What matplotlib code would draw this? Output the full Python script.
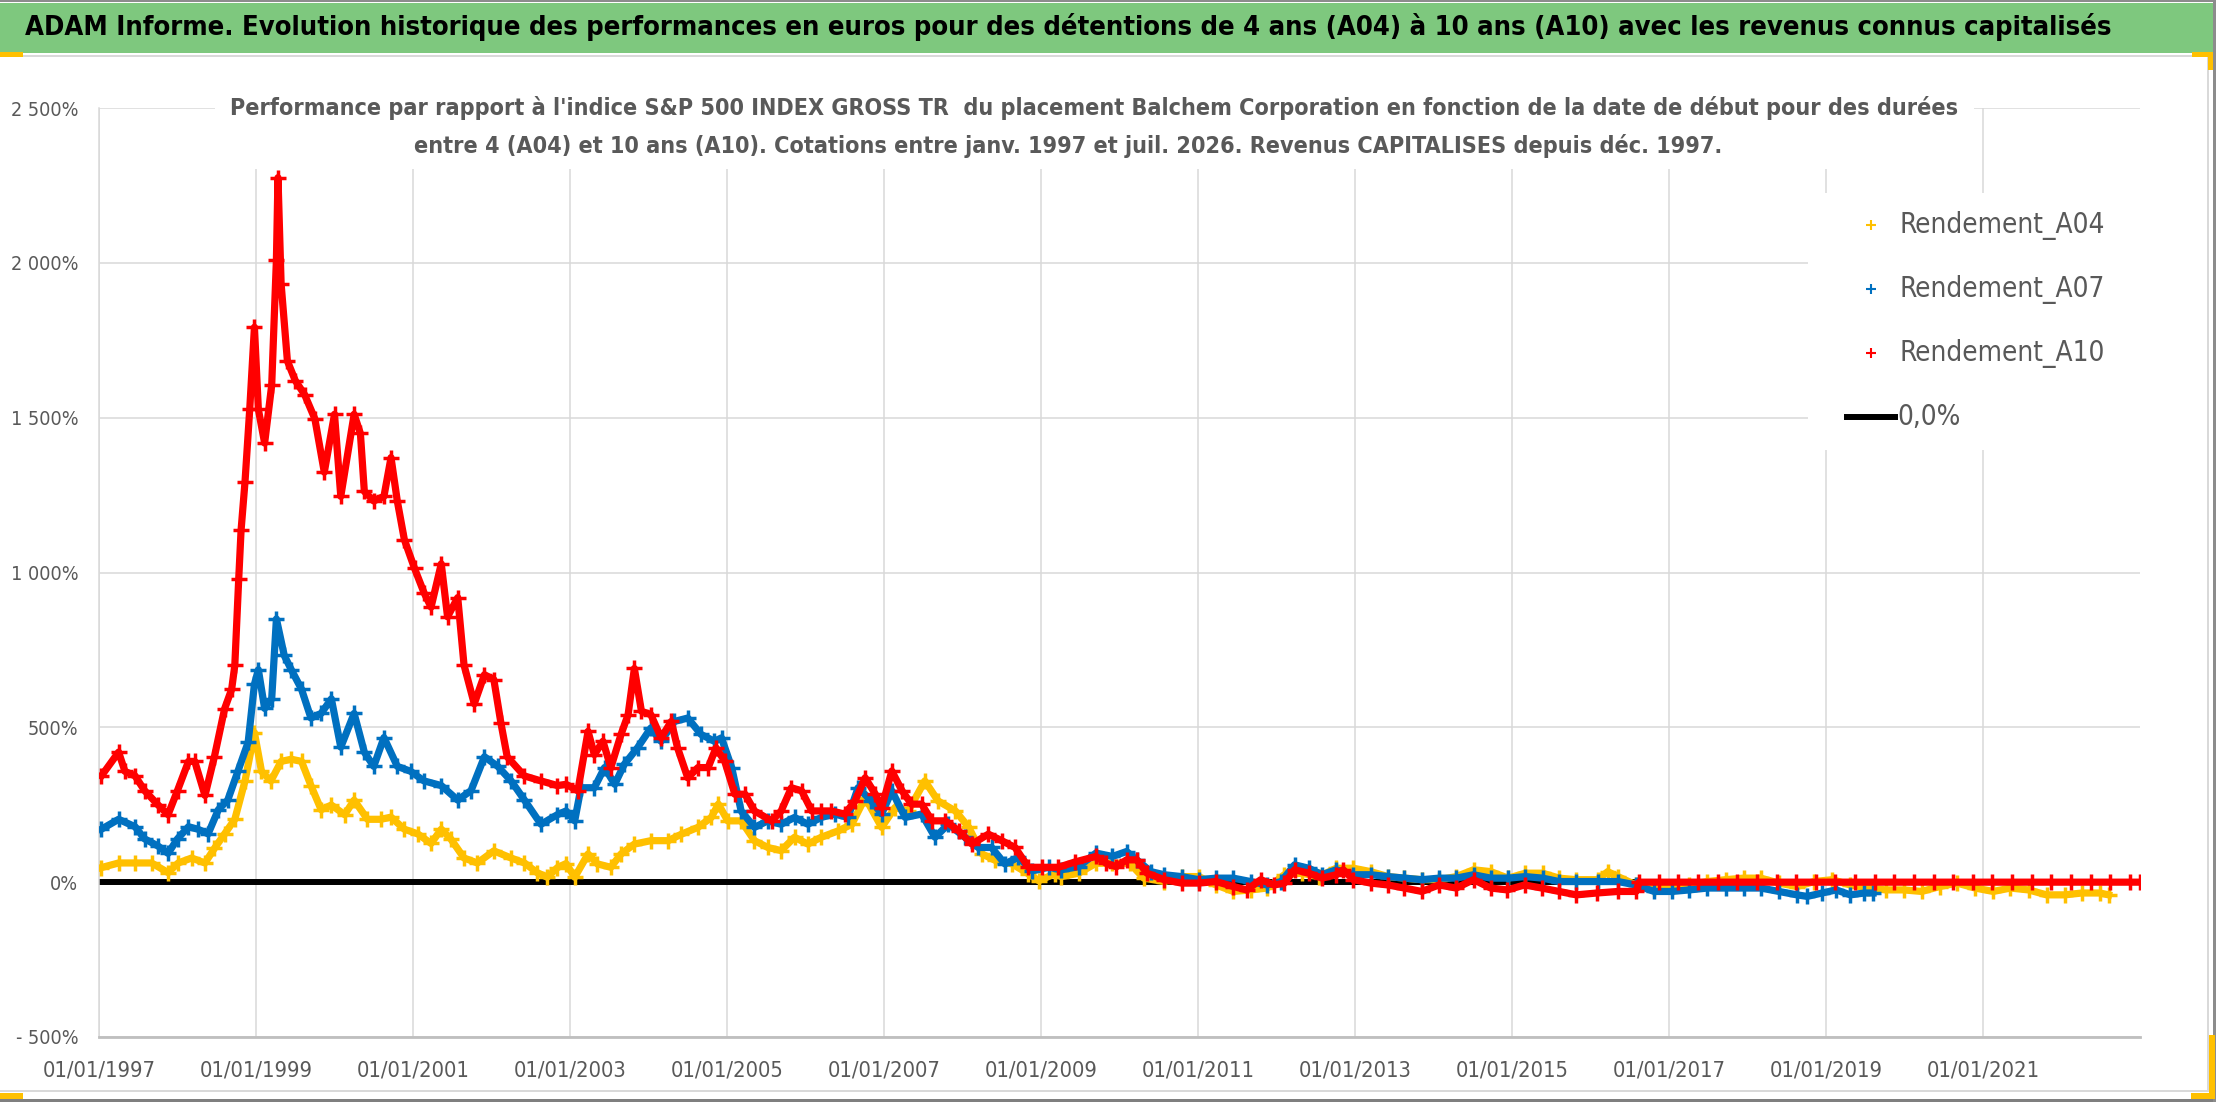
import matplotlib
matplotlib.use('Agg')
import matplotlib.pyplot as plt
from matplotlib import font_manager
from matplotlib.lines import Line2D
from matplotlib.patches import Rectangle

W, H, DPI = 2216, 1102, 100

# Calibri-like narrow look: take the narrowest family we have
fonts = font_manager.fontManager.ttflist
if any(f.name == 'Liberation Sans Narrow' for f in fonts):
    FAM, STRETCH = 'Liberation Sans Narrow', 'normal'
elif any(f.name == 'DejaVu Sans' and f.stretch == 'condensed' for f in fonts):
    FAM, STRETCH = 'DejaVu Sans', 'condensed'
else:
    FAM, STRETCH = 'Liberation Sans', 'normal'
plt.rcParams['font.family'] = [FAM, 'DejaVu Sans']
plt.rcParams['font.stretch'] = STRETCH

TITLE = ("ADAM Informe. Evolution historique des performances en euros pour des détentions "
         "de 4 ans (A04) à 10 ans (A10) avec les revenus connus capitalisés")
SUB1 = ("Performance par rapport à l'indice S&P 500 INDEX GROSS TR  du placement Balchem Corporation "
        "en fonction de la date de début pour des durées")
SUB2 = ("entre 4 (A04) et 10 ans (A10). Cotations entre janv. 1997 et juil. 2026. "
        "Revenus CAPITALISES depuis déc. 1997.")

# start dates as decimal years, values in %
a04_years = [1997.03, 1997.25, 1997.46, 1997.67, 1997.88, 1998.01, 1998.18, 1998.35, 1998.47, 1998.60,
             1998.73, 1998.86, 1998.98, 1999.07, 1999.19, 1999.32, 1999.45, 1999.58, 1999.70, 1999.83,
             1999.96, 2000.13, 2000.25, 2000.42, 2000.59, 2000.72, 2000.89, 2001.06, 2001.23, 2001.36,
             2001.48, 2001.65, 2001.82, 2002.03, 2002.25, 2002.42, 2002.58, 2002.71, 2002.84, 2002.95,
             2003.06, 2003.23, 2003.35, 2003.52, 2003.65, 2003.82, 2004.03, 2004.25, 2004.42, 2004.63,
             2004.80, 2004.89, 2005.01, 2005.18, 2005.35, 2005.52, 2005.69, 2005.86, 2006.03, 2006.20,
             2006.42, 2006.59, 2006.76, 2006.97, 2007.14, 2007.31, 2007.52, 2007.69, 2007.91, 2008.08,
             2008.25, 2008.42, 2008.63, 2008.84, 2008.97, 2009.18, 2009.26, 2009.48, 2009.70, 2009.91,
             2010.13, 2010.31, 2010.57, 2010.79, 2011.01, 2011.23, 2011.45, 2011.67, 2011.88, 2012.10,
             2012.32, 2012.54, 2012.76, 2012.98, 2013.20, 2013.42, 2013.63, 2013.85, 2014.07, 2014.29,
             2014.51, 2014.73, 2014.95, 2015.17, 2015.39, 2015.60, 2015.82, 2016.09, 2016.22, 2016.35,
             2016.58, 2016.81, 2017.04, 2017.26, 2017.49, 2017.72, 2017.95, 2018.17, 2018.40, 2018.63,
             2018.85, 2019.08, 2019.31, 2019.54, 2019.76, 2019.99, 2020.22, 2020.45, 2020.67, 2020.90,
             2021.13, 2021.35, 2021.58, 2021.81, 2022.04, 2022.26, 2022.49, 2022.60]
a04_vals = [47, 62, 62, 62, 31, 62, 78, 62, 109, 156,
            203, 327, 483, 358, 327, 390, 397, 390, 312, 234,
            249, 218, 265, 203, 203, 210, 171, 156, 125, 171,
            140, 78, 62, 101, 78, 62, 31, 16, 47, 60,
            16, 91, 59, 48, 91, 123, 134, 134, 155, 177,
            209, 252, 198, 198, 134, 112, 102, 145, 123, 145,
            166, 187, 273, 177, 241, 230, 327, 262, 230, 177,
            91, 70, 59, 27, 5, 27, 18, 29, 61, 61,
            61, 13, 2, 18, 18, -9, -30, -25, -19, 24,
            29, 18, 45, 45, 34, 18, 13, 8, 8, 18,
            40, 34, 13, 29, 29, 13, 8, 8, 34, 18,
            -9, -19, -14, -9, 2, 8, 13, 13, -3, -14,
            2, 8, -9, -19, -25, -25, -30, -14, -3, -19,
            -30, -19, -25, -41, -41, -35, -35, -41]

a07_years = [1997.03, 1997.25, 1997.46, 1997.58, 1997.75, 1997.88, 1998.00, 1998.14, 1998.26, 1998.39,
             1998.52, 1998.64, 1998.77, 1998.90, 1998.98, 1999.03, 1999.11, 1999.20, 1999.26, 1999.36,
             1999.45, 1999.58, 1999.70, 1999.83, 1999.96, 2000.08, 2000.25, 2000.38, 2000.50, 2000.63,
             2000.80, 2000.97, 2001.14, 2001.36, 2001.57, 2001.74, 2001.91, 2002.08, 2002.25, 2002.42,
             2002.63, 2002.84, 2002.95, 2003.06, 2003.14, 2003.31, 2003.44, 2003.57, 2003.69, 2003.86,
             2004.03, 2004.16, 2004.33, 2004.50, 2004.67, 2004.84, 2004.93, 2005.06, 2005.18, 2005.35,
             2005.52, 2005.69, 2005.86, 2006.03, 2006.20, 2006.37, 2006.54, 2006.67, 2006.84, 2006.97,
             2007.10, 2007.27, 2007.48, 2007.65, 2007.82, 2008.03, 2008.20, 2008.37, 2008.54, 2008.71,
             2008.89, 2009.10, 2009.26, 2009.48, 2009.70, 2009.91, 2010.09, 2010.22, 2010.40, 2010.57,
             2010.79, 2011.01, 2011.23, 2011.45, 2011.67, 2011.88, 2012.06, 2012.23, 2012.41, 2012.58,
             2012.76, 2012.98, 2013.20, 2013.42, 2013.63, 2013.85, 2014.07, 2014.29, 2014.51, 2014.73,
             2014.95, 2015.17, 2015.39, 2015.60, 2015.82, 2016.09, 2016.35, 2016.58, 2016.81, 2017.04,
             2017.26, 2017.49, 2017.72, 2017.95, 2018.17, 2018.40, 2018.63, 2018.76, 2018.95, 2019.13,
             2019.31, 2019.49, 2019.60]
a07_vals = [171, 203, 179, 140, 117, 93, 140, 179, 171, 156,
            234, 265, 358, 452, 639, 686, 561, 592, 850, 732,
            686, 623, 530, 545, 592, 436, 545, 420, 374, 467,
            374, 358, 327, 312, 265, 296, 405, 374, 327, 265,
            187, 218, 230, 198, 305, 305, 370, 316, 380, 434,
            498, 455, 519, 530, 477, 455, 466, 370, 230, 177,
            198, 187, 209, 187, 209, 220, 209, 305, 262, 220,
            295, 209, 220, 145, 187, 145, 112, 112, 59, 80,
            37, 48, 40, 50, 94, 83, 99, 72, 34, 24,
            18, 8, 13, 13, 2, -9, 2, 56, 45, 24,
            40, 24, 24, 18, 13, 8, 13, 13, 24, 13,
            13, 18, 13, 2, 2, 2, 2, -9, -30, -30,
            -25, -19, -19, -19, -19, -30, -41, -46, -35, -25,
            -41, -35, -35]

a10_years = [1997.03, 1997.25, 1997.33, 1997.46, 1997.58, 1997.75, 1997.88, 1998.00, 1998.14, 1998.22,
             1998.35, 1998.47, 1998.60, 1998.69, 1998.73, 1998.78, 1998.81, 1998.86, 1998.92, 1998.98,
             1999.03, 1999.11, 1999.20, 1999.26, 1999.28, 1999.32, 1999.40, 1999.50, 1999.62, 1999.75,
             1999.87, 2000.00, 2000.08, 2000.25, 2000.33, 2000.38, 2000.50, 2000.63, 2000.72, 2000.80,
             2000.89, 2001.02, 2001.14, 2001.23, 2001.36, 2001.44, 2001.57, 2001.65, 2001.78, 2001.91,
             2002.03, 2002.12, 2002.20, 2002.42, 2002.63, 2002.84, 2002.95, 2003.10, 2003.23, 2003.31,
             2003.42, 2003.52, 2003.65, 2003.74, 2003.82, 2003.91, 2004.03, 2004.16, 2004.29, 2004.37,
             2004.50, 2004.63, 2004.76, 2004.86, 2004.97, 2005.10, 2005.23, 2005.35, 2005.57, 2005.69,
             2005.82, 2005.95, 2006.08, 2006.20, 2006.33, 2006.50, 2006.63, 2006.76, 2006.89, 2006.97,
             2007.10, 2007.23, 2007.35, 2007.48, 2007.61, 2007.78, 2007.95, 2008.12, 2008.33, 2008.50,
             2008.67, 2008.84, 2009.01, 2009.22, 2009.43, 2009.70, 2009.83, 2009.96, 2010.09, 2010.22,
             2010.35, 2010.57, 2010.79, 2011.01, 2011.23, 2011.45, 2011.62, 2011.80, 2011.97, 2012.10,
             2012.23, 2012.41, 2012.58, 2012.76, 2012.85, 2012.98, 2013.20, 2013.42, 2013.63, 2013.85,
             2014.07, 2014.29, 2014.51, 2014.73, 2014.94, 2015.16, 2015.38, 2015.60, 2015.82, 2016.08,
             2016.35, 2016.58, 2016.62, 2016.87, 2017.12, 2017.37, 2017.62, 2017.87, 2018.12, 2018.37,
             2018.62, 2018.87, 2019.12, 2019.37, 2019.62, 2019.87, 2020.12, 2020.37, 2020.62, 2020.87,
             2021.12, 2021.37, 2021.62, 2021.87, 2022.12, 2022.37, 2022.62, 2022.87, 2023.00]
a10_vals = [343, 420, 358, 343, 296, 250, 218, 296, 390, 390,
            280, 405, 560, 623, 700, 980, 1137, 1293, 1527, 1792,
            1527, 1418, 1605, 2010, 2275, 1932, 1683, 1620, 1574, 1496,
            1324, 1511, 1246, 1511, 1449, 1262, 1231, 1246, 1371, 1231,
            1106, 1013, 935, 888, 1028, 857, 919, 701, 576, 670,
            654, 514, 405, 343, 327, 312, 316, 295, 487, 412,
            455, 370, 477, 541, 690, 552, 541, 466, 519, 434,
            337, 370, 370, 434, 391, 284, 284, 230, 198, 230,
            305, 295, 230, 230, 230, 220, 262, 337, 284, 241,
            359, 295, 252, 252, 198, 198, 166, 123, 155, 134,
            112, 48, 48, 48, 65, 83, 61, 50, 72, 72,
            29, 8, -3, -3, 2, -14, -25, 8, -9, -3,
            40, 29, 13, 24, 40, 8, -3, -9, -19, -30,
            -9, -19, 8, -19, -25, -9, -19, -30, -41, -35,
            -30, -30, 0, 0, 0, 0, 0, 0, 0, 0,
            0, 0, 0, 0, 0, 0, 0, 0, 0, 0,
            0, 0, 0, 0, 0, 0, 0, 0, 0]

zero_years = [1997.0, 2023.0]
zero_vals = [0, 0]

x_ticks = list(range(1997, 2023, 2))
y_ticks = [-500, 0, 500, 1000, 1500, 2000, 2500]
legend_labels = ['Rendement_A04', 'Rendement_A07', 'Rendement_A10', '0,0%']

YELLOW, BLUE, RED = '#ffc000', '#0070c0', '#ff0000'
GREY_TXT = '#595959'


def fx(px):
    return px / W


def fy(py):
    return 1 - py / H


def pct(v):
    s = f'{abs(v):,}'.replace(',', ' ') + '%'
    return '- ' + s if v < 0 else s


fig = plt.figure(figsize=(W / DPI, H / DPI), dpi=DPI)
fig.patch.set_facecolor('white')

ax = fig.add_axes([fx(99), fy(1037), fx(2140) - fx(99), fy(108) - fy(1037)])
ax.set_xlim(1997, 2023)
ax.set_ylim(-500, 2500)

ax.plot(zero_years, zero_vals, color='black', lw=4.3, zorder=2)
style = dict(lw=5.2, marker='+', ms=11, mew=2.5)
ax.plot(a04_years, a04_vals, color=YELLOW, zorder=3, **style)
ax.plot(a07_years, a07_vals, color=BLUE, zorder=4, **style)
ax.plot(a10_years, a10_vals, color=RED, zorder=5, **style)

ax.set_xticks(x_ticks)
ax.set_xticklabels([f'01/01/{y}' for y in x_ticks])
ax.set_yticks(y_ticks)
ax.set_yticklabels([pct(v) for v in y_ticks])
ax.tick_params(axis='both', length=0, labelsize=16, labelcolor=GREY_TXT)
ax.tick_params(axis='x', pad=17)
ax.tick_params(axis='y', pad=15)
ax.grid(True, color='#d9d9d9', lw=1.1)
ax.set_axisbelow(True)
for s in ['top', 'right']:
    ax.spines[s].set_visible(False)
ax.spines['left'].set_color('#d9d9d9')
ax.spines['left'].set_linewidth(1.1)
ax.spines['bottom'].set_color('#bfbfbf')
ax.spines['bottom'].set_linewidth(2)

# white boxes behind subtitle and legend (hide gridlines)
for x0, y0, x1, y1 in [(215, 86, 1974, 169), (1808, 193, 2141, 450)]:
    ax.add_artist(Rectangle((fx(x0), fy(y1)), fx(x1) - fx(x0), fy(y0) - fy(y1),
                            transform=fig.transFigure, facecolor='white', edgecolor='none',
                            zorder=2.2, clip_on=False))

# legend, laid out by hand like the Excel one
legend_rows = [225, 289, 353, 417]
leg_texts = []
for lab, row, c in zip(legend_labels, legend_rows, [YELLOW, BLUE, RED, 'black']):
    if lab == '0,0%':
        fig.add_artist(Line2D([fx(1847), fx(1895)], [fy(row)] * 2, transform=fig.transFigure,
                              color=c, lw=4.3))
    else:
        fig.add_artist(Line2D([fx(1871)], [fy(row)], transform=fig.transFigure, color=c,
                              marker='+', ms=7, mew=1.5, ls='none'))
    leg_texts.append(fig.text(fx(1900 if lab != '0,0%' else 1897), fy(row), lab,
                              ha='left', va='center', fontsize=20, color=GREY_TXT))

# frame decorations
decor = [((0, 0, 2216, 2), '#8c8c8c'), ((0, 3, 2213, 53), '#7ec87e'),
         ((0, 55, 2209, 57), '#d9d9d9'), ((2207, 57, 2209, 1092), '#d9d9d9'),
         ((0, 1090, 2209, 1092), '#d9d9d9'), ((0, 1099, 2216, 1102), '#7f7f7f'),
         ((2213, 0, 2216, 1102), '#8c8c8c'),
         ((2192, 52, 2213, 57), YELLOW), ((2208, 52, 2213, 70), YELLOW),
         ((0, 52, 23, 57), YELLOW), ((0, 1093, 23, 1099), YELLOW),
         ((2209, 1035, 2215, 1099), YELLOW), ((2191, 1093, 2215, 1099), YELLOW)]
for (x0, y0, x1, y1), c in decor:
    fig.patches.append(Rectangle((fx(x0), fy(y1)), fx(x1) - fx(x0), fy(y0) - fy(y1),
                                 transform=fig.transFigure, facecolor=c, edgecolor='none'))

title = fig.text(fx(1068), fy(27), TITLE, ha='center', va='center', fontsize=22,
                 fontweight='bold', color='black')
sub1 = fig.text(fx(1094), fy(108), SUB1, ha='center', va='center', fontsize=18,
                fontweight='bold', color=GREY_TXT)
sub2 = fig.text(fx(1068), fy(146), SUB2, ha='center', va='center', fontsize=18,
                fontweight='bold', color=GREY_TXT)

# scale texts to the widths measured on the reference
fig.canvas.draw()
r = fig.canvas.get_renderer()


def fit(artist, size, target):
    return size * target / artist.get_window_extent(r).width


title.set_fontsize(fit(title, 22, 2080))
s = fit(sub1, 18, 1737)
sub1.set_fontsize(s)
sub2.set_fontsize(s)
ls = fit(leg_texts[0], 20, 205)
for t in leg_texts:
    t.set_fontsize(ls)
xs = fit(ax.get_xticklabels()[0], 16, 114)
ys = fit(ax.get_yticklabels()[-1], 16, 68)
ax.tick_params(axis='x', labelsize=xs)
ax.tick_params(axis='y', labelsize=ys)

fig.savefig('out.png', dpi=DPI)
